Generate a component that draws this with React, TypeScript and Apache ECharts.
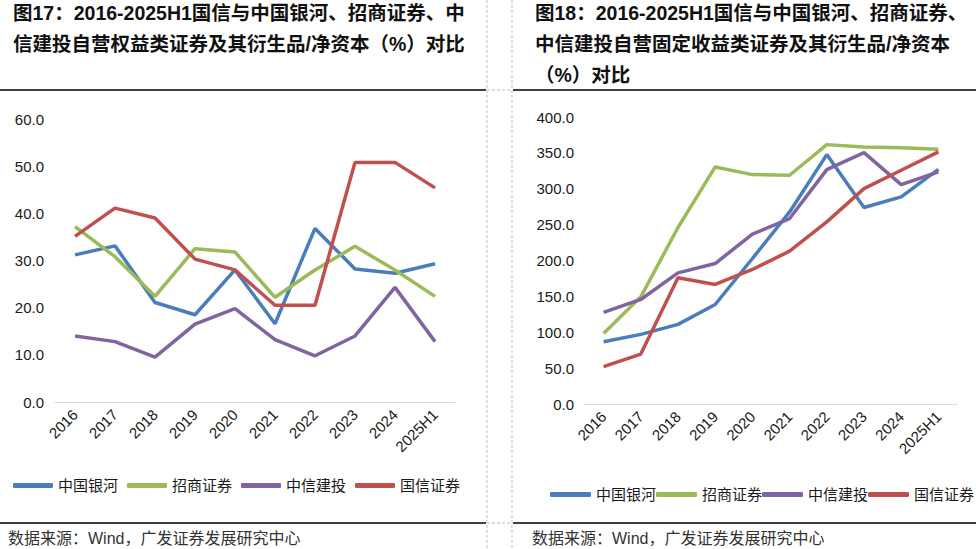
import React, { useEffect, useRef } from "react";
import * as echarts from "echarts";

const categories = ["2016", "2017", "2018", "2019", "2020", "2021", "2022", "2023", "2024", "2025H1"];
const seriesNames = ["中国银河", "招商证券", "中信建投", "国信证券"];
const colors = ["#4A7EBB", "#9BBB59", "#8064A2", "#C0504D"];

// 图17：权益类证券及其衍生品/净资本（%）
const equityYinhe = [31.2, 33.1, 21.1, 18.5, 28.0, 16.6, 36.8, 28.2, 27.3, 29.3];
const equityZhaoshang = [37.2, 30.8, 22.4, 32.5, 31.8, 22.2, 28.0, 33.0, 28.0, 22.4];
const equityZhongxin = [14.0, 12.8, 9.5, 16.5, 19.8, 13.2, 9.8, 14.0, 24.3, 12.8];
const equityGuoxin = [35.1, 41.1, 39.0, 30.3, 28.0, 20.5, 20.5, 50.8, 50.8, 45.4];

// 图18：固定收益类证券及其衍生品/净资本（%）
const fixedYinhe = [86.8, 97.0, 111.0, 138.7, 202.8, 267.7, 347.6, 273.8, 288.6, 327.0];
const fixedZhaoshang = [98.4, 149.4, 246.0, 330.4, 319.7, 318.8, 361.5, 358.2, 357.3, 355.0];
const fixedZhongxin = [127.6, 145.7, 182.8, 195.8, 236.7, 258.5, 326.7, 350.3, 305.8, 323.4];
const fixedGuoxin = [52.0, 69.6, 175.9, 166.6, 187.5, 213.0, 253.8, 300.2, 325.8, 351.3];

const leftTitle = ["图17：2016-2025H1国信与中国银河、招商证券、中", "信建投自营权益类证券及其衍生品/净资本（%）对比"];
const rightTitle = ["图18：2016-2025H1国信与中国银河、招商证券、", "中信建投自营固定收益类证券及其衍生品/净资本", "（%）对比"];
const sourceText = "数据来源：Wind，广发证券发展研究中心";

const FONT = '"Liberation Sans", Arial, "Noto Sans CJK SC", sans-serif';

export default function App() {
  const ref = useRef<HTMLDivElement>(null);

  useEffect(() => {
    if (!ref.current) return;
    const chart = echarts.init(ref.current, undefined, { renderer: "svg" });

    const leftData = [equityYinhe, equityZhaoshang, equityZhongxin, equityGuoxin];
    const rightData = [fixedYinhe, fixedZhaoshang, fixedZhongxin, fixedGuoxin];

    const mkSeries = (data: number[][], idx: number) =>
      data.map((d, i) => ({
        name: seriesNames[i],
        type: "line",
        xAxisIndex: idx,
        yAxisIndex: idx,
        data: d,
        symbol: "none",
        lineStyle: { width: 3.5, color: colors[i] },
        itemStyle: { color: colors[i] },
        z: 2,
      }));

    const xAxisCommon = {
      type: "category",
      data: categories,
      boundaryGap: true,
      axisLine: { show: true, lineStyle: { color: "#D9D9D9", width: 1 } },
      axisTick: { show: false },
      axisLabel: {
        rotate: 45,
        interval: 0,
        margin: 10,
        fontSize: 15,
        color: "#1a1a1a",
        fontFamily: FONT,
      },
    };

    const yAxisCommon = (max: number, interval: number) => ({
      type: "value",
      min: 0,
      max,
      interval,
      axisLine: { show: false },
      axisTick: { show: false },
      splitLine: { show: false },
      axisLabel: {
        margin: 11,
        fontSize: 15,
        color: "#1a1a1a",
        fontFamily: FONT,
        formatter: (v: number) => v.toFixed(1),
      },
    });

    const titleTexts: any[] = [];
    leftTitle.forEach((t, i) => {
      titleTexts.push({
        type: "text",
        x: 13,
        y: 12.5 + i * 31,
        style: {
          text: t,
          font: `bold 19.5px ${FONT}`,
          fill: "#111",
          textVerticalAlign: "middle",
        },
      });
    });
    rightTitle.forEach((t, i) => {
      titleTexts.push({
        type: "text",
        x: 535,
        y: 12.5 + i * 31,
        style: {
          text: t,
          font: `bold 19.5px ${FONT}`,
          fill: "#111",
          textVerticalAlign: "middle",
        },
      });
    });

    const dash = { stroke: "#BDBDBD", lineWidth: 1, lineDash: [3, 2] };

    chart.setOption({
      animation: false,
      backgroundColor: "#ffffff",
      grid: [
        { left: 55, right: 521, top: 119, bottom: 147, containLabel: false },
        { left: 585, right: 19, top: 117, bottom: 145, containLabel: false },
      ],
      xAxis: [
        { ...xAxisCommon, gridIndex: 0 },
        { ...xAxisCommon, gridIndex: 1 },
      ],
      yAxis: [
        { ...yAxisCommon(60, 10), gridIndex: 0 },
        { ...yAxisCommon(400, 50), gridIndex: 1 },
      ],
      legend: [
        {
          left: 13,
          top: 478,
          padding: 0,
          width: 470,
          itemWidth: 40,
          itemHeight: 5,
          itemGap: 9,
          icon: "roundRect",
          data: seriesNames,
          textStyle: { fontSize: 15, color: "#1a1a1a", fontFamily: FONT },
        },
        {
          left: 550,
          top: 487,
          padding: 0,
          width: 426,
          itemWidth: 41,
          itemHeight: 5,
          itemGap: 0,
          icon: "roundRect",
          data: seriesNames,
          textStyle: { fontSize: 15, color: "#1a1a1a", fontFamily: FONT },
        },
      ],
      series: [...mkSeries(leftData, 0), ...mkSeries(rightData, 1)],
      graphic: [
        ...titleTexts,
        // separators
        { type: "line", shape: { x1: 0, y1: 90, x2: 486, y2: 90 }, style: { stroke: "#000", lineWidth: 1.5 } },
        { type: "line", shape: { x1: 513, y1: 90, x2: 976, y2: 90 }, style: { stroke: "#000", lineWidth: 1.5 } },
        { type: "line", shape: { x1: 0, y1: 523, x2: 486, y2: 523 }, style: { stroke: "#000", lineWidth: 1.5 } },
        { type: "line", shape: { x1: 513, y1: 523, x2: 976, y2: 523 }, style: { stroke: "#000", lineWidth: 1.5 } },
        { type: "line", shape: { x1: 487, y1: 0, x2: 487, y2: 549 }, style: dash },
        { type: "line", shape: { x1: 512, y1: 0, x2: 512, y2: 549 }, style: dash },
        { type: "line", shape: { x1: 487, y1: 90, x2: 512, y2: 90 }, style: dash },
        { type: "line", shape: { x1: 487, y1: 523, x2: 512, y2: 523 }, style: dash },
        {
          type: "text",
          x: 8,
          y: 538,
          style: { text: sourceText, font: `16px ${FONT}`, fill: "#333", textVerticalAlign: "middle" },
        },
        {
          type: "text",
          x: 532,
          y: 538,
          style: { text: sourceText, font: `16px ${FONT}`, fill: "#333", textVerticalAlign: "middle" },
        },
      ],
    });

    return () => chart.dispose();
  }, []);

  return (
    <div
      ref={ref}
      style={{ position: "absolute", left: 0, top: 0, width: 976, height: 549, background: "#fff" }}
    />
  );
}
